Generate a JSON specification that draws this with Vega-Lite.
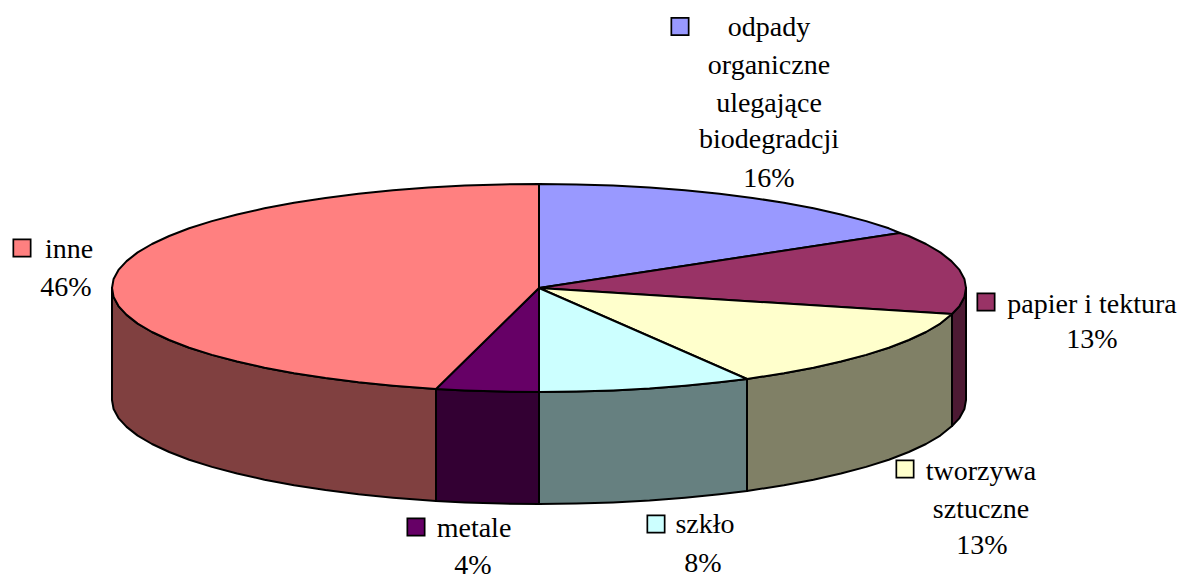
{"$schema":"https://vega.github.io/schema/vega-lite/v6.json","width":1184,"height":574,"padding":0,"autosize":"none","background":"white","config":{"view":{"stroke":null}},
"datasets":{"poly":[
{"part":"w_papier","k":0,"x":413,"y":-26},{"part":"w_papier","k":1,"x":420.5,"y":-18.1},{"part":"w_papier","k":2,"x":425.4,"y":-9.1},{"part":"w_papier","k":3,"x":427,"y":0},{"part":"w_papier","k":4,"x":427,"y":-112},{"part":"w_papier","k":5,"x":425.4,"y":-121.1},{"part":"w_papier","k":6,"x":420.5,"y":-130.1},{"part":"w_papier","k":7,"x":413,"y":-138},{"part":"w_papier","k":8,"x":413,"y":-26},
{"part":"w_tworzywa","k":0,"x":413,"y":-26},{"part":"w_tworzywa","k":1,"x":401.3,"y":-35.6},{"part":"w_tworzywa","k":2,"x":387,"y":-44},{"part":"w_tworzywa","k":3,"x":369.8,"y":-52},{"part":"w_tworzywa","k":4,"x":349.8,"y":-59.7},{"part":"w_tworzywa","k":5,"x":327.1,"y":-66.9},{"part":"w_tworzywa","k":6,"x":301.9,"y":-73.5},{"part":"w_tworzywa","k":7,"x":274.5,"y":-79.7},{"part":"w_tworzywa","k":8,"x":244.9,"y":-85.2},{"part":"w_tworzywa","k":9,"x":208,"y":-91},{"part":"w_tworzywa","k":10,"x":208,"y":-203},{"part":"w_tworzywa","k":11,"x":244.9,"y":-197.2},{"part":"w_tworzywa","k":12,"x":274.5,"y":-191.7},{"part":"w_tworzywa","k":13,"x":301.9,"y":-185.5},{"part":"w_tworzywa","k":14,"x":327.1,"y":-178.9},{"part":"w_tworzywa","k":15,"x":349.8,"y":-171.7},{"part":"w_tworzywa","k":16,"x":369.8,"y":-164},{"part":"w_tworzywa","k":17,"x":387,"y":-156},{"part":"w_tworzywa","k":18,"x":401.3,"y":-147.6},{"part":"w_tworzywa","k":19,"x":413,"y":-138},{"part":"w_tworzywa","k":20,"x":413,"y":-26},
{"part":"w_szklo","k":0,"x":208,"y":-91},{"part":"w_szklo","k":1,"x":180.5,"y":-94.3},{"part":"w_szklo","k":2,"x":146,"y":-97.7},{"part":"w_szklo","k":3,"x":110.5,"y":-100.5},{"part":"w_szklo","k":4,"x":74.1,"y":-102.4},{"part":"w_szklo","k":5,"x":37.2,"y":-103.6},{"part":"w_szklo","k":6,"x":0,"y":-104},{"part":"w_szklo","k":7,"x":0,"y":-216},{"part":"w_szklo","k":8,"x":37.2,"y":-215.6},{"part":"w_szklo","k":9,"x":74.1,"y":-214.4},{"part":"w_szklo","k":10,"x":110.5,"y":-212.5},{"part":"w_szklo","k":11,"x":146,"y":-209.7},{"part":"w_szklo","k":12,"x":180.5,"y":-206.3},{"part":"w_szklo","k":13,"x":208,"y":-203},{"part":"w_szklo","k":14,"x":208,"y":-91},
{"part":"w_metale","k":0,"x":0,"y":-104},{"part":"w_metale","k":1,"x":-37.2,"y":-103.6},{"part":"w_metale","k":2,"x":-74.1,"y":-102.4},{"part":"w_metale","k":3,"x":-103,"y":-101},{"part":"w_metale","k":4,"x":-103,"y":-213},{"part":"w_metale","k":5,"x":-74.1,"y":-214.4},{"part":"w_metale","k":6,"x":-37.2,"y":-215.6},{"part":"w_metale","k":7,"x":0,"y":-216},{"part":"w_metale","k":8,"x":0,"y":-104},
{"part":"w_inne","k":0,"x":-103,"y":-101},{"part":"w_inne","k":1,"x":-146,"y":-97.7},{"part":"w_inne","k":2,"x":-180.5,"y":-94.3},{"part":"w_inne","k":3,"x":-213.5,"y":-90.1},{"part":"w_inne","k":4,"x":-244.9,"y":-85.2},{"part":"w_inne","k":5,"x":-274.5,"y":-79.7},{"part":"w_inne","k":6,"x":-301.9,"y":-73.5},{"part":"w_inne","k":7,"x":-327.1,"y":-66.9},{"part":"w_inne","k":8,"x":-349.8,"y":-59.7},{"part":"w_inne","k":9,"x":-369.8,"y":-52},{"part":"w_inne","k":10,"x":-387,"y":-44},{"part":"w_inne","k":11,"x":-401.3,"y":-35.6},{"part":"w_inne","k":12,"x":-412.4,"y":-26.9},{"part":"w_inne","k":13,"x":-420.5,"y":-18.1},{"part":"w_inne","k":14,"x":-425.4,"y":-9.1},{"part":"w_inne","k":15,"x":-427,"y":0},{"part":"w_inne","k":16,"x":-427,"y":-112},{"part":"w_inne","k":17,"x":-425.4,"y":-121.1},{"part":"w_inne","k":18,"x":-420.5,"y":-130.1},{"part":"w_inne","k":19,"x":-412.4,"y":-138.9},{"part":"w_inne","k":20,"x":-401.3,"y":-147.6},{"part":"w_inne","k":21,"x":-387,"y":-156},{"part":"w_inne","k":22,"x":-369.8,"y":-164},{"part":"w_inne","k":23,"x":-349.8,"y":-171.7},{"part":"w_inne","k":24,"x":-327.1,"y":-178.9},{"part":"w_inne","k":25,"x":-301.9,"y":-185.5},{"part":"w_inne","k":26,"x":-274.5,"y":-191.7},{"part":"w_inne","k":27,"x":-244.9,"y":-197.2},{"part":"w_inne","k":28,"x":-213.5,"y":-202.1},{"part":"w_inne","k":29,"x":-180.5,"y":-206.3},{"part":"w_inne","k":30,"x":-146,"y":-209.7},{"part":"w_inne","k":31,"x":-103,"y":-213},{"part":"w_inne","k":32,"x":-103,"y":-101},
{"part":"odpady","k":0,"x":0,"y":0},{"part":"odpady","k":1,"x":0,"y":104},{"part":"odpady","k":2,"x":37.2,"y":103.6},{"part":"odpady","k":3,"x":74.1,"y":102.4},{"part":"odpady","k":4,"x":110.5,"y":100.5},{"part":"odpady","k":5,"x":146,"y":97.7},{"part":"odpady","k":6,"x":180.5,"y":94.3},{"part":"odpady","k":7,"x":213.5,"y":90.1},{"part":"odpady","k":8,"x":244.9,"y":85.2},{"part":"odpady","k":9,"x":274.5,"y":79.7},{"part":"odpady","k":10,"x":301.9,"y":73.5},{"part":"odpady","k":11,"x":327.1,"y":66.9},{"part":"odpady","k":12,"x":349.8,"y":59.7},{"part":"odpady","k":13,"x":361,"y":55},{"part":"odpady","k":14,"x":0,"y":0},
{"part":"papier","k":0,"x":0,"y":0},{"part":"papier","k":1,"x":361,"y":55},{"part":"papier","k":2,"x":369.8,"y":52},{"part":"papier","k":3,"x":387,"y":44},{"part":"papier","k":4,"x":401.3,"y":35.6},{"part":"papier","k":5,"x":412.4,"y":26.9},{"part":"papier","k":6,"x":420.5,"y":18.1},{"part":"papier","k":7,"x":425.4,"y":9.1},{"part":"papier","k":8,"x":427,"y":0},{"part":"papier","k":9,"x":425.4,"y":-9.1},{"part":"papier","k":10,"x":420.5,"y":-18.1},{"part":"papier","k":11,"x":413,"y":-26},{"part":"papier","k":12,"x":0,"y":0},
{"part":"tworzywa","k":0,"x":0,"y":0},{"part":"tworzywa","k":1,"x":413,"y":-26},{"part":"tworzywa","k":2,"x":401.3,"y":-35.6},{"part":"tworzywa","k":3,"x":387,"y":-44},{"part":"tworzywa","k":4,"x":369.8,"y":-52},{"part":"tworzywa","k":5,"x":349.8,"y":-59.7},{"part":"tworzywa","k":6,"x":327.1,"y":-66.9},{"part":"tworzywa","k":7,"x":301.9,"y":-73.5},{"part":"tworzywa","k":8,"x":274.5,"y":-79.7},{"part":"tworzywa","k":9,"x":244.9,"y":-85.2},{"part":"tworzywa","k":10,"x":208,"y":-91},{"part":"tworzywa","k":11,"x":0,"y":0},
{"part":"szklo","k":0,"x":0,"y":0},{"part":"szklo","k":1,"x":208,"y":-91},{"part":"szklo","k":2,"x":180.5,"y":-94.3},{"part":"szklo","k":3,"x":146,"y":-97.7},{"part":"szklo","k":4,"x":110.5,"y":-100.5},{"part":"szklo","k":5,"x":74.1,"y":-102.4},{"part":"szklo","k":6,"x":37.2,"y":-103.6},{"part":"szklo","k":7,"x":0,"y":-104},{"part":"szklo","k":8,"x":0,"y":0},
{"part":"metale","k":0,"x":0,"y":0},{"part":"metale","k":1,"x":0,"y":-104},{"part":"metale","k":2,"x":-37.2,"y":-103.6},{"part":"metale","k":3,"x":-74.1,"y":-102.4},{"part":"metale","k":4,"x":-103,"y":-101},{"part":"metale","k":5,"x":0,"y":0},
{"part":"inne","k":0,"x":0,"y":0},{"part":"inne","k":1,"x":-103,"y":-101},{"part":"inne","k":2,"x":-146,"y":-97.7},{"part":"inne","k":3,"x":-180.5,"y":-94.3},{"part":"inne","k":4,"x":-213.5,"y":-90.1},{"part":"inne","k":5,"x":-244.9,"y":-85.2},{"part":"inne","k":6,"x":-274.5,"y":-79.7},{"part":"inne","k":7,"x":-301.9,"y":-73.5},{"part":"inne","k":8,"x":-327.1,"y":-66.9},{"part":"inne","k":9,"x":-349.8,"y":-59.7},{"part":"inne","k":10,"x":-369.8,"y":-52},{"part":"inne","k":11,"x":-387,"y":-44},{"part":"inne","k":12,"x":-401.3,"y":-35.6},{"part":"inne","k":13,"x":-412.4,"y":-26.9},{"part":"inne","k":14,"x":-420.5,"y":-18.1},{"part":"inne","k":15,"x":-425.4,"y":-9.1},{"part":"inne","k":16,"x":-427,"y":0},{"part":"inne","k":17,"x":-425.4,"y":9.1},{"part":"inne","k":18,"x":-420.5,"y":18.1},{"part":"inne","k":19,"x":-412.4,"y":26.9},{"part":"inne","k":20,"x":-401.3,"y":35.6},{"part":"inne","k":21,"x":-387,"y":44},{"part":"inne","k":22,"x":-369.8,"y":52},{"part":"inne","k":23,"x":-349.8,"y":59.7},{"part":"inne","k":24,"x":-327.1,"y":66.9},{"part":"inne","k":25,"x":-301.9,"y":73.5},{"part":"inne","k":26,"x":-274.5,"y":79.7},{"part":"inne","k":27,"x":-244.9,"y":85.2},{"part":"inne","k":28,"x":-213.5,"y":90.1},{"part":"inne","k":29,"x":-180.5,"y":94.3},{"part":"inne","k":30,"x":-146,"y":97.7},{"part":"inne","k":31,"x":-110.5,"y":100.5},{"part":"inne","k":32,"x":-74.1,"y":102.4},{"part":"inne","k":33,"x":-37.2,"y":103.6},{"part":"inne","k":34,"x":0,"y":104},{"part":"inne","k":35,"x":0,"y":0}
],
"keys":[{"part":"odpady","x":141,"y":261.5},{"part":"papier","x":447,"y":-14},{"part":"inne","x":-517,"y":40},{"part":"metale","x":-123,"y":-239},{"part":"szklo","x":117,"y":-236},{"part":"tworzywa","x":366,"y":-181}],
"labels":[{"t":"odpady","x":230,"y":252},{"t":"organiczne","x":230,"y":214},{"t":"ulegające","x":230,"y":176},{"t":"biodegradcji","x":230,"y":140},{"t":"16%","x":230,"y":101},{"t":"papier i tektura","x":553,"y":-25},{"t":"13%","x":553,"y":-60},{"t":"inne","x":-470,"y":30},{"t":"46%","x":-473,"y":-8},{"t":"metale","x":-65,"y":-249},{"t":"4%","x":-66,"y":-286},{"t":"szkło","x":166,"y":-245},{"t":"8%","x":164,"y":-284},{"t":"tworzywa","x":442,"y":-192},{"t":"sztuczne","x":442,"y":-230},{"t":"13%","x":443,"y":-266}]},
"layer":[
{"data":{"name":"poly"},"mark":{"type":"line","stroke":"#000000","strokeWidth":2,"strokeJoin":"round","interpolate":"linear"},
"encoding":{"x":{"field":"x","type":"quantitative","scale":{"domain":[-539,645],"nice":false,"zero":false},"axis":null},"y":{"field":"y","type":"quantitative","scale":{"domain":[-286,288],"nice":false,"zero":false},"axis":null},"order":{"field":"k","type":"quantitative"},"detail":{"field":"part"},
"fill":{"field":"part","type":"nominal","legend":null,"scale":{"domain":["odpady","papier","tworzywa","szklo","metale","inne","w_papier","w_tworzywa","w_szklo","w_metale","w_inne"],"range":["#9999FF","#993366","#FFFFCC","#CCFFFF","#660066","#FF8080","#4D1A33","#808066","#668080","#330033","#804040"]}}}},
{"data":{"name":"keys"},"mark":{"type":"square","size":300,"filled":true,"stroke":"#000000","strokeWidth":1.7,"opacity":1},
"encoding":{"x":{"field":"x","type":"quantitative"},"y":{"field":"y","type":"quantitative"},"fill":{"field":"part","type":"nominal","legend":null}}},
{"data":{"name":"labels"},"mark":{"type":"text","font":"Liberation Serif","fontSize":28,"color":"#000000","align":"center","baseline":"alphabetic"},
"encoding":{"x":{"field":"x","type":"quantitative"},"y":{"field":"y","type":"quantitative"},"text":{"field":"t","type":"nominal"}}}
]}
